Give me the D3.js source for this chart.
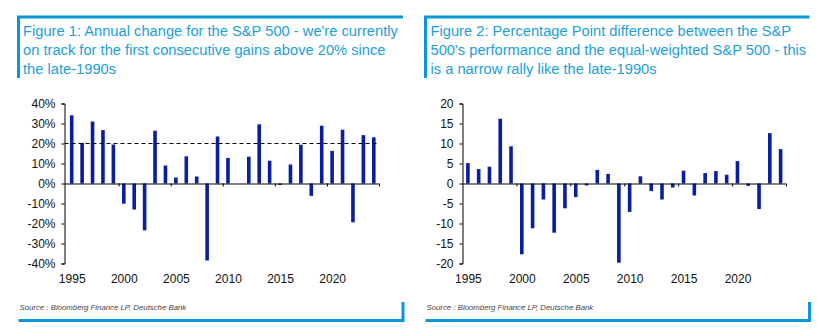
<!DOCTYPE html>
<html>
<head>
<meta charset="utf-8">
<script src="https://cdn.jsdelivr.net/npm/d3@7"></script>
<style>
  body { margin: 0; background: #fff; }
  svg { display: block; font-family: "Liberation Sans", Arial, sans-serif; }
  .axis text { font-size: 12px; fill: #111; }
  .axis path, .axis line { stroke: #000; }
</style>
</head>
<body>
<div id="chart"></div>
<script>
var svgWidth = 821;
var svgHeight = 333;

// years shared by both figures
var years = d3.range(1995, 2025);
var labelYears = [1995, 2000, 2005, 2010, 2015, 2020];

// Figure 1: annual change of the S&P 500 (%)
var annualChange = [34.1, 20.3, 31.0, 26.7, 19.5, -10.1, -13.0, -23.4, 26.4, 9.0,
                    3.0, 13.6, 3.5, -38.5, 23.5, 12.8, 0.0, 13.4, 29.6, 11.4,
                    -0.7, 9.5, 19.4, -6.2, 28.9, 16.3, 26.9, -19.4, 24.2, 23.1];
var annualTicks = [-40, -30, -20, -10, 0, 10, 20, 30, 40];
var annualRef = 20;

// Figure 2: S&P 500 minus equal-weighted S&P 500 (pp)
var ppDiff = [5.1, 3.6, 4.2, 16.2, 9.3, -17.7, -11.2, -4.0, -12.3, -6.2,
              -3.4, -0.5, 3.4, 2.4, -19.8, -7.1, 1.8, -1.9, -4.0, -1.0,
              3.2, -3.0, 2.6, 3.1, 2.2, 5.6, -0.6, -6.4, 12.6, 8.6];
var ppTicks = [-20, -15, -10, -5, 0, 5, 10, 15, 20];

var titles = [
  ["Figure 1: Annual change for the S&P 500 - we're currently",
   "on track for the first consecutive gains above 20% since",
   "the late-1990s"],
  ["Figure 2: Percentage Point difference between the S&P",
   "500's performance and the equal-weighted S&P 500 - this",
   "is a narrow rally like the late-1990s"]
];
var sourceText = "Source : Bloomberg Finance LP, Deutsche Bank";

var frameColor = "#0a96d8";
var titleColor = "#219fdb";
var barColor = "#0a1ea0";

var svg = d3.select("#chart")
    .append("svg")
    .attr("width", svgWidth)
    .attr("height", svgHeight);

function drawPanel(opts) {
    var g = svg.append("g");

    // frame: top + left stub, bottom + right stub
    g.append("path")
      .attr("d", `M${opts.fx0},78 V17 H${opts.fx1}`)
      .attr("fill", "none")
      .attr("stroke", frameColor)
      .attr("stroke-width", 3);
    g.append("path")
      .attr("d", `M${opts.fx0},320.5 H${opts.fx1} V302`)
      .attr("fill", "none")
      .attr("stroke", frameColor)
      .attr("stroke-width", 3);

    g.selectAll(".title")
      .data(opts.title)
      .enter()
      .append("text")
      .attr("x", opts.tx)
      .attr("y", (d, i) => 36 + i * 19)
      .attr("font-size", "14.7px")
      .attr("fill", titleColor)
      .text(d => d);

    g.append("text")
      .attr("x", opts.fx0 + 1)
      .attr("y", 310)
      .attr("font-size", "7.8px")
      .attr("font-style", "italic")
      .attr("fill", "#444")
      .text(sourceText);

    var y = d3.scaleLinear()
        .domain(opts.domain)
        .range([263.5, 103.5]);

    var x = d3.scaleLinear()
        .domain([1994.5, 2024.5])
        .range([opts.x0, opts.x1]);

    // bars
    g.append("g").selectAll("rect")
      .data(years)
      .enter()
      .append("rect")
      .attr("x", (d) => x(d) - 1.8)
      .attr("width", 3.6)
      .attr("y", (d, i) => y(Math.max(0, opts.values[i])))
      .attr("height", (d, i) => Math.abs(y(opts.values[i]) - y(0)))
      .attr("fill", barColor);

    if (opts.ref !== undefined) {
        g.append("line")
          .attr("x1", opts.axisX)
          .attr("x2", opts.x1)
          .attr("y1", y(opts.ref))
          .attr("y2", y(opts.ref))
          .attr("stroke", "#000")
          .attr("stroke-dasharray", "4,3");
    }

    // y axis
    g.append("g")
      .attr("class", "axis")
      .attr("transform", `translate(${opts.axisX},0)`)
      .call(d3.axisLeft(y)
          .tickValues(opts.ticks)
          .tickSize(3)
          .tickPadding(6)
          .tickFormat(opts.fmt));

    // zero line with ticks at band edges
    var zeroAxis = g.append("g")
      .attr("class", "axis")
      .attr("transform", `translate(0,${y(0)})`)
      .call(d3.axisBottom(x)
          .tickValues([1999.5, 2004.5, 2009.5, 2014.5, 2019.5, 2024.5])
          .tickSize(3)
          .tickSizeOuter(0)
          .tickFormat(""));
    zeroAxis.select(".domain")
      .attr("d", `M${opts.axisX},0.5H${opts.x1}`);

    // year labels at the bottom
    var labelAxis = g.append("g")
      .attr("class", "axis")
      .attr("transform", "translate(0,263.5)")
      .call(d3.axisBottom(x)
          .tickValues(labelYears)
          .tickSize(0)
          .tickPadding(11)
          .tickFormat(d3.format("d")));
    labelAxis.select(".domain").remove();
}

drawPanel({
    fx0: 18.5, fx1: 403, tx: 23,
    title: titles[0],
    values: annualChange,
    domain: [-40, 40],
    ticks: annualTicks,
    fmt: d => d + "%",
    ref: annualRef,
    axisX: 64.5, x0: 66.5, x1: 379
});

drawPanel({
    fx0: 425.5, fx1: 809.5, tx: 430.5,
    title: titles[1],
    values: ppDiff,
    domain: [-20, 20],
    ticks: ppTicks,
    fmt: d => d,
    axisX: 462.5, x0: 462.5, x1: 786
});
</script>
</body>
</html>
